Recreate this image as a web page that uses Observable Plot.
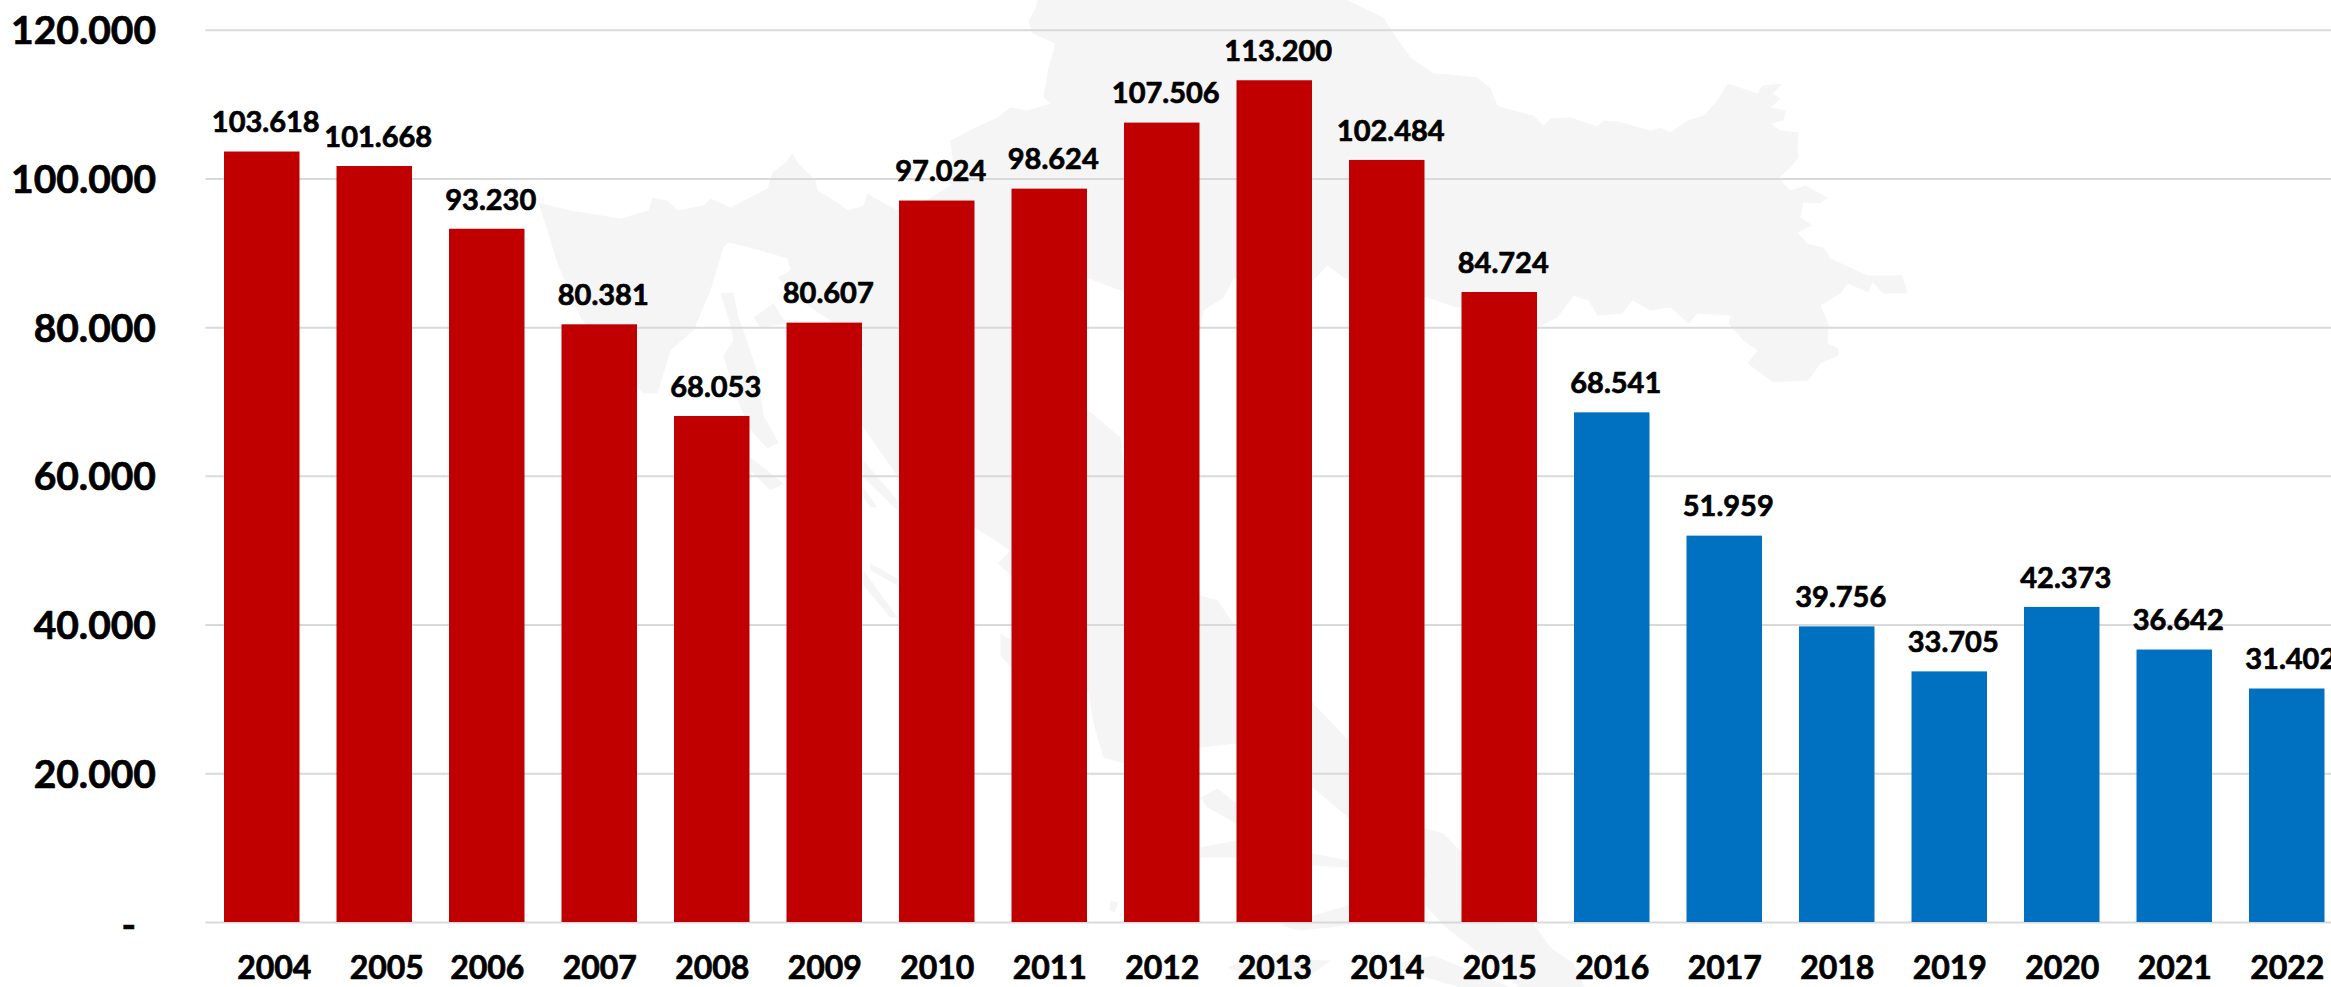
<!DOCTYPE html>
<html>
<head>
<meta charset="utf-8">
<script src="https://cdn.jsdelivr.net/npm/d3@7"></script>
<script src="https://cdn.jsdelivr.net/npm/@observablehq/plot@0.6"></script>
<style>
html,body{margin:0;padding:0;background:#fff;overflow:hidden}
svg{display:block}
</style>
</head>
<body>
<div id="chart"></div>
<script>
const years = [2004,2005,2006,2007,2008,2009,2010,2011,2012,2013,2014,2015,2016,2017,2018,2019,2020,2021,2022];
const values = [103618,101668,93230,80381,68053,80607,97024,98624,107506,113200,102484,84724,68541,51959,39756,33705,42373,36642,31402];
const barColors = ["#c00000","#c00000","#c00000","#c00000","#c00000","#c00000","#c00000","#c00000","#c00000","#c00000","#c00000","#c00000","#0070c0","#0070c0","#0070c0","#0070c0","#0070c0","#0070c0","#0070c0"];
const yTicks = [20000,40000,60000,80000,100000,120000];
const gridValues = [0,20000,40000,60000,80000,100000,120000];

// Pale watermark silhouette in map units
const mapMainland = [[538,202],[570,210],[620,218],[648,210],[652,197],[667,200],[677,210],[703,205],[710,198],[730,207],[767,188],[772,172],[785,162],[792,153],[797,162],[815,180],[817,190],[837,202],[848,210],[863,205],[867,193],[882,202],[898,210],[925,200],[950,185],[953,165],[950,140],[973,128],[997,117],[1010,107],[1027,110],[1050,103],[1043,97],[1048,67],[1055,43],[1032,33],[1028,20],[1035,8],[1038,-5],[1337,-5],[1383,17],[1393,33],[1410,57],[1433,73],[1450,74],[1477,77],[1490,88],[1497,105],[1520,112],[1533,115],[1543,125],[1550,118],[1570,117],[1597,126],[1603,120],[1617,121],[1650,130],[1660,127],[1670,132],[1687,120],[1703,115],[1717,100],[1727,83],[1757,93],[1762,85],[1782,83],[1772,93],[1780,98],[1770,107],[1785,110],[1783,120],[1770,123],[1780,130],[1798,132],[1797,147],[1798,157],[1790,167],[1778,178],[1790,190],[1805,185],[1827,197],[1820,203],[1803,202],[1800,217],[1812,225],[1797,232],[1807,243],[1823,247],[1830,258],[1867,275],[1902,275],[1907,293],[1883,293],[1872,282],[1868,292],[1847,283],[1840,293],[1820,305],[1828,323],[1827,343],[1838,348],[1838,355],[1820,363],[1808,380],[1773,382],[1747,363],[1757,350],[1743,340],[1728,323],[1730,315],[1697,313],[1688,323],[1670,307],[1650,310],[1632,300],[1622,313],[1597,315],[1588,300],[1573,295],[1557,317],[1537,327],[1450,305],[1427,297],[1343,277],[1327,265],[1313,280],[1233,278],[1223,297],[1203,310],[1200,327],[1160,310],[1120,290],[1088,278],[1060,290],[1045,330],[1050,360],[1088,410],[1120,437],[1123,463],[1160,530],[1200,595],[1217,600],[1233,623],[1312,702],[1348,740],[1425,828],[1443,833],[1462,853],[1500,923],[1533,923],[1550,947],[1573,963],[1590,1000],[1530,1000],[1510,977],[1443,925],[1425,905],[1425,878],[1348,817],[1312,787],[1236,743],[1200,747],[1123,763],[1103,757],[1093,723],[1088,693],[1011,575],[997,563],[1010,550],[974,527],[898,477],[860,423],[862,367],[863,347],[830,320],[810,307],[790,290],[777,277],[790,270],[787,258],[760,250],[728,242],[723,247],[710,290],[693,330],[670,350],[657,393],[643,393],[625,375],[600,345],[580,317],[557,263],[547,230]];
const mapIslandA = [[720,293],[733,292],[738,317],[748,345],[757,372],[763,415],[778,442],[767,448],[752,432],[740,407],[725,363],[723,355],[733,340],[728,318]];
const mapIslandB = [[753,317],[773,303],[786,323],[760,327]];
const mapIslandC = [[750,457],[783,483],[770,490],[750,470]];
const mapIslandD = [[863,460],[897,500],[897,510],[863,477]];
const mapIslandE = [[863,487],[877,507],[870,507],[863,497]];
const mapIslandF = [[863,570],[897,617],[890,617],[863,585]];
const mapIslandG = [[870,563],[897,578],[897,585],[870,570]];
const mapIslandH = [[1200,797],[1217,788],[1236,803],[1236,823],[1207,807]];
const mapIslandI = [[1200,847],[1236,840],[1312,853],[1348,860],[1348,867],[1312,865],[1236,857],[1200,857]];
const mapIslandJ = [[1280,925],[1312,915],[1348,905],[1380,910],[1348,925],[1300,930]];
const mapIslandK = [[1227,967],[1250,957],[1330,960],[1310,975],[1240,972]];
const mapIslandL = [[1385,965],[1433,955],[1510,987],[1460,987]];
const mapIslandM = [[1000,633],[1011,640],[1011,667],[1000,655]];
const mapIslandN = [[1110,900],[1118,902],[1114,912],[1109,910]];
const mapParts = [mapMainland,mapIslandA,mapIslandB,mapIslandC,mapIslandD,mapIslandE,mapIslandF,mapIslandG,mapIslandH,mapIslandI,mapIslandJ,mapIslandK,mapIslandL,mapIslandM,mapIslandN];

const frame = {left:205.5, right:2343, top:29.7, bottom:922};
const xDomain = [2003.5,2022.5];
const yDomain = [0,120000];
const mapYear = u => xDomain[0] + (u-frame.left)/(frame.right-frame.left)*(xDomain[1]-xDomain[0]);
const mapValue = v => (frame.bottom-v)/(frame.bottom-frame.top)*yDomain[1];
const mapRows = mapParts.flatMap((part,i)=>part.map(([u,v])=>({part:i,year:mapYear(u),value:mapValue(v)})));

const table = years.map((year,i)=>({year,value:values[i],color:barColors[i]}));
const halfBar = 0.3355;
const fmt = d3.formatLocale({decimal:",",thousands:".",grouping:[3],currency:["",""]}).format(",");
const font = "Lato, Carlito, sans-serif";
const ink = {fontWeight:700,fontFamily:font,fill:"#000",stroke:"#000",strokeWidth:0.7};
const axisInk = {fontWeight:700,fontFamily:font,textFill:"#000",textStroke:"#000",textStrokeWidth:0.7};

const chart = Plot.plot({
  width:2331, height:987,
  marginLeft:frame.left, marginTop:frame.top, marginBottom:987-frame.bottom, marginRight:0,
  style:{background:"transparent",color:"#000",fontFamily:font,overflow:"hidden"},
  x:{type:"linear",domain:xDomain,range:[frame.left,frame.right]},
  y:{domain:yDomain,range:[frame.bottom,frame.top]},
  marks:[
    Plot.line(mapRows,{x:"year",y:"value",z:"part",fill:"#f5f5f5",stroke:"none",curve:"linear-closed"}),
    Plot.ruleY(gridValues,{stroke:"#d9d9d9",strokeWidth:2,x1:xDomain[0],x2:xDomain[1]}),
    Plot.rectY(table,{x1:d=>d.year-halfBar,x2:d=>d.year+halfBar,y1:0,y2:"value",fill:"color"}),
    Plot.text(table,{x:"year",y:"value",text:d=>fmt(d.value),dx:3.5,dy:-29,fontSize:29,lineAnchor:"middle",...ink}),
    Plot.axisY(yTicks,{anchor:"left",tickSize:0,tickPadding:50,tickFormat:fmt,label:null,dy:1.5,fontSize:39,...axisInk}),
    Plot.axisY([0],{anchor:"left",tickSize:0,tickPadding:70,tickFormat:()=>"-",label:null,dy:4,fontSize:39,...axisInk}),
    Plot.axisX(years.slice(0,2),{anchor:"bottom",tickSize:0,tickPadding:34,tickFormat:"d",label:null,dx:12,fontSize:32,...axisInk}),
    Plot.axisX(years.slice(2),{anchor:"bottom",tickSize:0,tickPadding:34,tickFormat:"d",label:null,fontSize:32,...axisInk})
  ]
});
document.getElementById("chart").appendChild(chart);
</script>
</body>
</html>
